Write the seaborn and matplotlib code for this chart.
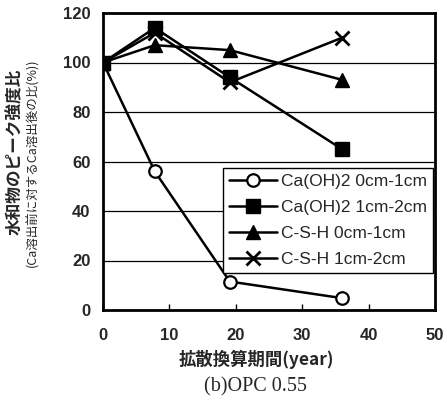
import matplotlib
matplotlib.use("Agg")
import matplotlib.pyplot as plt
import seaborn as sns
import pandas as pd

sns.set_theme(style="white")
plt.rcParams['font.family'] = ['Noto Sans CJK JP', 'DejaVu Sans']

years = [0, 7.8, 19.1, 36.0]
caoh2_0_1 = [100, 56, 11.5, 4.8]
caoh2_1_2 = [100, 114, 94, 65]
csh_0_1 = [100, 107, 105, 93]
csh_1_2 = [100, 112, 92, 110]

series_names = ["Ca(OH)2 0cm-1cm", "Ca(OH)2 1cm-2cm", "C-S-H 0cm-1cm", "C-S-H 1cm-2cm"]
series_values = [caoh2_0_1, caoh2_1_2, csh_0_1, csh_1_2]
x_ticks = [0, 10, 20, 30, 40, 50]
y_ticks = [0, 20, 40, 60, 80, 100, 120]

df = pd.DataFrame({
    "year": years * len(series_names),
    "value": sum(series_values, []),
    "series": [n for n in series_names for _ in years],
})

marker_styles = {
    "Ca(OH)2 0cm-1cm": dict(marker="o", markersize=9, markerfacecolor="white", markeredgewidth=1.6),
    "Ca(OH)2 1cm-2cm": dict(marker="s", markersize=9.5, markerfacecolor="black", markeredgewidth=1.0),
    "C-S-H 0cm-1cm": dict(marker="^", markersize=9.5, markerfacecolor="black", markeredgewidth=1.0),
    "C-S-H 1cm-2cm": dict(marker="x", markersize=10, markeredgewidth=2.0),
}

fig = plt.figure(figsize=(4.47, 4.03), dpi=100)
ax = fig.add_axes([103 / 447, 93 / 403, 332 / 447, 297 / 403])

for name in series_names:
    sub = df[df["series"] == name]
    sns.lineplot(data=sub, x="year", y="value", ax=ax, color="black", linewidth=1.8,
                 markeredgecolor="black", label=name, zorder=3, **marker_styles[name])

ax.set_xlim(0, 50)
ax.set_ylim(0, 120)
ax.set_xticks(x_ticks)
ax.set_yticks(y_ticks)
for y in y_ticks[1:-1]:
    ax.axhline(y, color="black", linewidth=0.9, zorder=1)

tick_font = dict(family=['Liberation Sans', 'DejaVu Sans'], weight='bold', size=12)
ax.set_xticklabels([str(t) for t in x_ticks], fontdict=tick_font)
ax.set_yticklabels([str(t) for t in y_ticks], fontdict=tick_font)
ax.tick_params(axis='x', direction='in', length=4, width=1, color='black', pad=13, bottom=True)
ax.tick_params(axis='y', length=0, pad=9)

for sp in ax.spines.values():
    sp.set_color("black")
    sp.set_linewidth(2.0)

ax.set_xlabel("")
ax.set_ylabel("")
fig.text(256 / 447, 1 - 359 / 403, "拡散換算期間(year)", ha='center', va='center',
         fontsize=12.5, fontweight='bold')
fig.text(15 / 447, 1 - 152 / 403, "水和物のピーク強度比", rotation=90, ha='center', va='center',
         fontsize=12, fontweight='bold')
fig.text(33 / 447, 1 - 163 / 403, "(Ca溶出前に対するCa溶出後の比(%))", rotation=90, ha='center',
         va='center', fontsize=9)
fig.text(255 / 447, 1 - 387 / 403, "(b)OPC 0.55", ha='center', va='center', fontsize=14.5,
         family=['Liberation Serif', 'DejaVu Serif'])

leg = ax.legend(loc='upper right', bbox_to_anchor=(0.994, 0.478), borderaxespad=0,
                frameon=True, fancybox=False, edgecolor='black', framealpha=1,
                handlelength=2.8, handletextpad=0.2, labelspacing=0.62,
                borderpad=0.35,
                prop=dict(family=['Liberation Sans', 'DejaVu Sans'], size=12.5))
leg.get_frame().set_linewidth(1.0)

fig.savefig("out.png", dpi=100, facecolor="white")
